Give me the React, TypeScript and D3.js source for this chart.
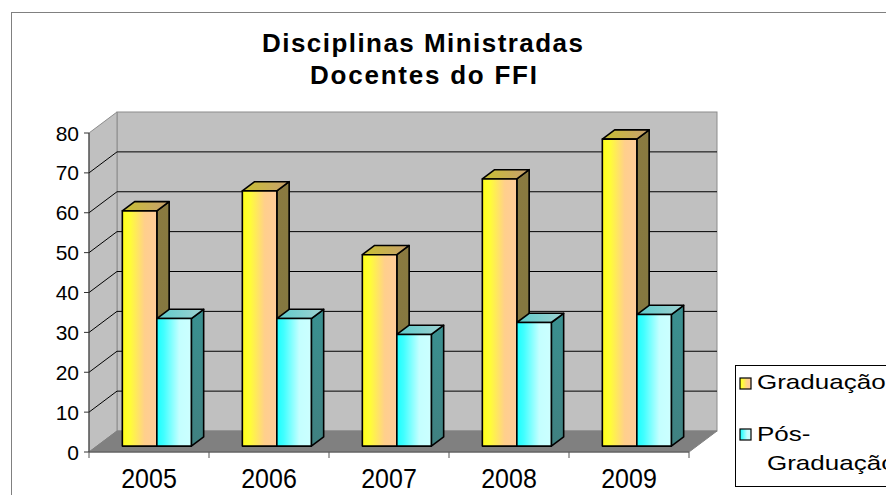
import * as d3 from 'd3';
import React from 'react';

const years = ['2005', '2006', '2007', '2008', '2009'];
const seriesNames = ['Graduação', 'Pós-Graduação'];
const graduacao = [59, 64, 48, 67, 77];
const posGraduacao = [32, 32, 28, 31, 33];
const yTickValues = [0, 10, 20, 30, 40, 50, 60, 70, 80];

const FONT = '"Liberation Sans", Arial, sans-serif';

// 3D depth offsets of the plot box
const DX = 28;
const DY = 21;
const F_FRONT = 0.28;
const F_BACK = 0.72;

const App: React.FC = () => {
  const width = 886;
  const height = 495;
  const left = 89;
  const right = 689;

  const xScale = d3.scaleBand<string>().domain(years).range([left, right]).padding(0);
  const yScale = d3.scaleLinear().domain([0, 80]).range([452, 133]);
  const groupW = 69;
  const sScale = d3.scaleBand<string>().domain(seriesNames).range([0, groupW]).padding(0);

  const proj = (x: number, y: number, f: number): [number, number] => [x + f * DX, y - f * DY];
  const pts = (arr: [number, number][]) => arr.map((p) => p.join(',')).join(' ');

  const y0 = yScale(0);
  const yTop = yScale(80);

  const fills = [
    { front: 'url(#goldFront)', top: 'url(#goldTop)', side: 'url(#goldSide)' },
    { front: 'url(#cyanFront)', top: 'url(#cyanTop)', side: 'url(#cyanSide)' },
  ];
  const values = [graduacao, posGraduacao];

  return (
    <svg
      width={width}
      height={height}
      style={{ position: 'absolute', left: 0, top: 0, background: '#fff' }}
      fontFamily={FONT}
    >
      <defs>
        <linearGradient id="goldFront" x1="0" x2="1" y1="0" y2="0">
          <stop offset="0" stopColor="#ffff1a" />
          <stop offset="0.2" stopColor="#ffff33" />
          <stop offset="0.65" stopColor="#ffcf8c" />
          <stop offset="1" stopColor="#ffcc99" />
        </linearGradient>
        <linearGradient id="goldTop" x1="0" x2="1" y1="0" y2="0">
          <stop offset="0" stopColor="#c8c030" />
          <stop offset="1" stopColor="#c8a070" />
        </linearGradient>
        <linearGradient id="goldSide" x1="0" x2="0" y1="0" y2="1">
          <stop offset="0" stopColor="#8a7a40" />
          <stop offset="1" stopColor="#807640" />
        </linearGradient>
        <linearGradient id="cyanFront" x1="0" x2="1" y1="0" y2="0">
          <stop offset="0" stopColor="#1affff" />
          <stop offset="0.2" stopColor="#40ffff" />
          <stop offset="0.65" stopColor="#c4ffff" />
          <stop offset="1" stopColor="#ccffff" />
        </linearGradient>
        <linearGradient id="cyanTop" x1="0" x2="1" y1="0" y2="0">
          <stop offset="0" stopColor="#5ccccc" />
          <stop offset="1" stopColor="#a0d0d0" />
        </linearGradient>
        <linearGradient id="cyanSide" x1="0" x2="0" y1="0" y2="1">
          <stop offset="0" stopColor="#3a9090" />
          <stop offset="1" stopColor="#408080" />
        </linearGradient>
      </defs>

      {/* chart area border */}
      <rect x={11.5} y={12.5} width={900} height={500} fill="#fff" stroke="#808080" />

      {/* title */}
      <text x={262} y={52} fontSize={26} fontWeight="bold" textLength={321} lengthAdjust="spacing">
        Disciplinas Ministradas
      </text>
      <text x={310} y={84} fontSize={26} fontWeight="bold" textLength={227} lengthAdjust="spacing">
        Docentes do FFI
      </text>

      {/* walls */}
      <rect
        x={left + DX}
        y={yTop - DY}
        width={right - left}
        height={y0 - yTop}
        fill="#c0c0c0"
        stroke="#8c8c8c"
      />
      <polygon
        points={pts([[left, yTop], proj(left, yTop, 1), proj(left, y0, 1), [left, y0]])}
        fill="#c0c0c0"
        stroke="#8c8c8c"
      />
      <polygon
        points={pts([[left, y0], [right, y0], proj(right, y0, 1), proj(left, y0, 1)])}
        fill="#808080"
        stroke="#808080"
      />

      {/* gridlines */}
      {yTickValues
        .filter((t) => t > 0 && t < 80)
        .map((t) => {
          const yy = yScale(t);
          const b = proj(left, yy, 1);
          return (
            <g key={`grid-${t}`}>
              <line x1={left} y1={yy} x2={b[0]} y2={b[1]} stroke="#000" strokeWidth={1} />
              <line x1={b[0]} y1={b[1]} x2={right + DX} y2={b[1]} stroke="#000" strokeWidth={1} />
            </g>
          );
        })}

      {/* bars */}
      {years.map((yr, i) => {
        const bx = (xScale(yr) ?? 0) + (xScale.bandwidth() - groupW) / 2;
        return (
          <g key={`bars-${yr}`}>
            {seriesNames.map((s, si) => {
              const x0 = bx + (sScale(s) ?? 0);
              const x1 = x0 + sScale.bandwidth();
              const yt = yScale(values[si][i]);
              const front = [proj(x0, yt, F_FRONT), proj(x1, yt, F_FRONT), proj(x1, y0, F_FRONT), proj(x0, y0, F_FRONT)];
              const top = [proj(x0, yt, F_FRONT), proj(x0, yt, F_BACK), proj(x1, yt, F_BACK), proj(x1, yt, F_FRONT)];
              const side = [proj(x1, yt, F_FRONT), proj(x1, yt, F_BACK), proj(x1, y0, F_BACK), proj(x1, y0, F_FRONT)];
              return (
                <g key={s} stroke="#000" strokeWidth={1.6} strokeLinejoin="round">
                  <polygon points={pts(side)} fill={fills[si].side} />
                  <polygon points={pts(top)} fill={fills[si].top} />
                  <polygon points={pts(front)} fill={fills[si].front} />
                </g>
              );
            })}
          </g>
        );
      })}

      {/* y axis */}
      <line x1={left} y1={yTop} x2={left} y2={y0} stroke="#333" />
      {yTickValues.map((t) => (
        <g key={`y-${t}`} transform={`translate(${left},${yScale(t)})`}>
          <line x2={-5} stroke="#333" />
          <text x={-10} dy="0.36em" textAnchor="end" fontSize={21}>
            {t}
          </text>
        </g>
      ))}

      {/* x axis */}
      <line x1={left} y1={y0} x2={right} y2={y0} stroke="#555" />
      {[...years.map((yr) => xScale(yr) ?? 0), right].map((x, i) => (
        <line key={`xt-${i}`} x1={x} y1={y0} x2={x} y2={y0 + 6} stroke="#555" />
      ))}
      {years.map((yr) => (
        <text
          key={`xl-${yr}`}
          transform={`translate(${(xScale(yr) ?? 0) + xScale.bandwidth() / 2},488) scale(1,1.12)`}
          textAnchor="middle"
          fontSize={25}
        >
          {yr}
        </text>
      ))}

      {/* legend (runs past the right edge, as in the original) */}
      <rect x={735.5} y={365.5} width={200} height={121} fill="#fff" stroke="#000" />
      <rect x={740} y={378} width={11} height={11} fill="url(#goldFront)" stroke="#000" strokeWidth={1.2} />
      <rect x={740} y={429} width={11} height={11} fill="url(#cyanFront)" stroke="#000" strokeWidth={1.2} />
      <text transform="translate(757,389) scale(1.3,1)" fontSize={20}>
        Graduação
      </text>
      <text transform="translate(757,441) scale(1.3,1)" fontSize={20}>
        Pós-
      </text>
      <text transform="translate(767,470) scale(1.3,1)" fontSize={20}>
        Graduação
      </text>
    </svg>
  );
};

export default App;
